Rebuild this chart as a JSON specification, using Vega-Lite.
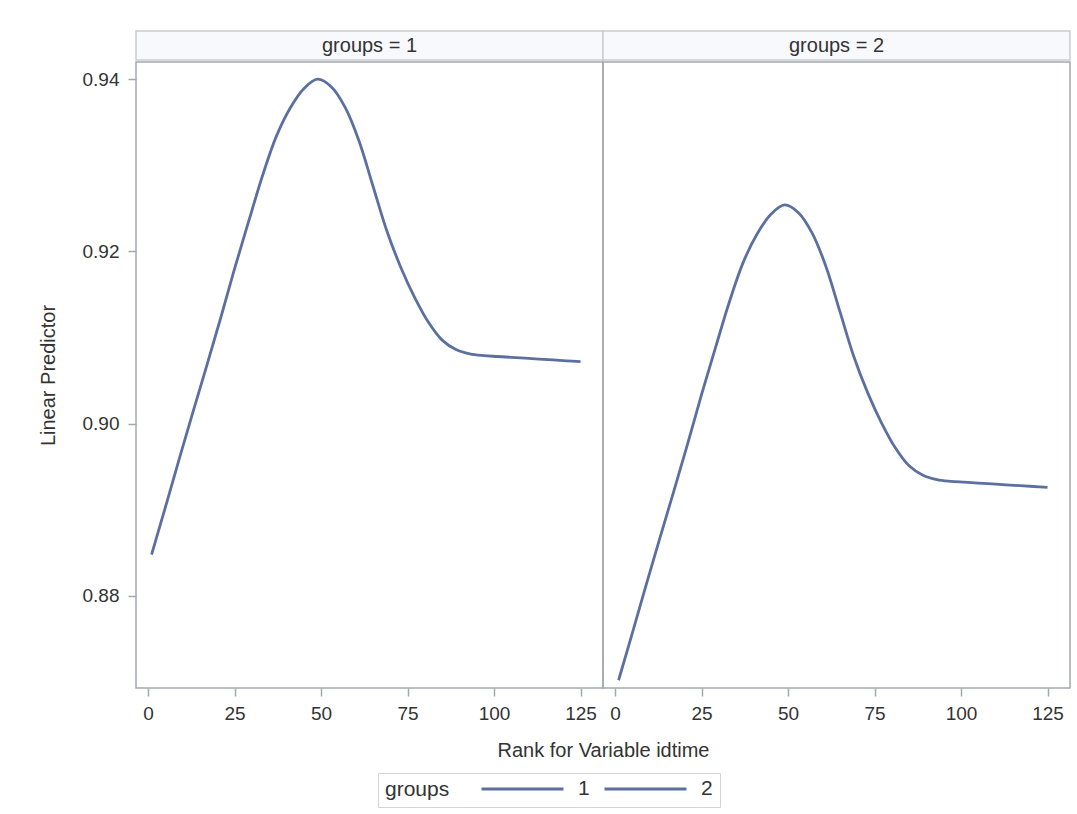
{
  "$schema": "https://vega.github.io/schema/vega-lite/v6.json",
  "padding": {"left": 37, "top": 30, "right": 7, "bottom": 10},
  "background": "white",
  "datasets": {
    "curves": [
      {"rank": 1, "pred": 0.8848, "groups": 1},
      {"rank": 5, "pred": 0.8903, "groups": 1},
      {"rank": 9, "pred": 0.8959, "groups": 1},
      {"rank": 13, "pred": 0.9014, "groups": 1},
      {"rank": 17, "pred": 0.9068, "groups": 1},
      {"rank": 21, "pred": 0.9123, "groups": 1},
      {"rank": 25, "pred": 0.918, "groups": 1},
      {"rank": 29, "pred": 0.9234, "groups": 1},
      {"rank": 33, "pred": 0.9287, "groups": 1},
      {"rank": 37, "pred": 0.9333, "groups": 1},
      {"rank": 41, "pred": 0.9366, "groups": 1},
      {"rank": 45, "pred": 0.9389, "groups": 1},
      {"rank": 49, "pred": 0.94, "groups": 1},
      {"rank": 53, "pred": 0.9391, "groups": 1},
      {"rank": 57, "pred": 0.9367, "groups": 1},
      {"rank": 61, "pred": 0.9328, "groups": 1},
      {"rank": 65, "pred": 0.9276, "groups": 1},
      {"rank": 69, "pred": 0.9224, "groups": 1},
      {"rank": 73, "pred": 0.9182, "groups": 1},
      {"rank": 77, "pred": 0.9147, "groups": 1},
      {"rank": 81, "pred": 0.9118, "groups": 1},
      {"rank": 85, "pred": 0.9097, "groups": 1},
      {"rank": 89, "pred": 0.9086, "groups": 1},
      {"rank": 93, "pred": 0.9081, "groups": 1},
      {"rank": 97, "pred": 0.9079, "groups": 1},
      {"rank": 101, "pred": 0.9078, "groups": 1},
      {"rank": 105, "pred": 0.9077, "groups": 1},
      {"rank": 109, "pred": 0.9076, "groups": 1},
      {"rank": 113, "pred": 0.9075, "groups": 1},
      {"rank": 117, "pred": 0.9074, "groups": 1},
      {"rank": 121, "pred": 0.9073, "groups": 1},
      {"rank": 125, "pred": 0.9072, "groups": 1},
      {"rank": 1, "pred": 0.8702, "groups": 2},
      {"rank": 5, "pred": 0.8757, "groups": 2},
      {"rank": 9, "pred": 0.8813, "groups": 2},
      {"rank": 13, "pred": 0.8868, "groups": 2},
      {"rank": 17, "pred": 0.8922, "groups": 2},
      {"rank": 21, "pred": 0.8977, "groups": 2},
      {"rank": 25, "pred": 0.9034, "groups": 2},
      {"rank": 29, "pred": 0.9088, "groups": 2},
      {"rank": 33, "pred": 0.9141, "groups": 2},
      {"rank": 37, "pred": 0.9187, "groups": 2},
      {"rank": 41, "pred": 0.922, "groups": 2},
      {"rank": 45, "pred": 0.9243, "groups": 2},
      {"rank": 49, "pred": 0.9254, "groups": 2},
      {"rank": 53, "pred": 0.9245, "groups": 2},
      {"rank": 57, "pred": 0.9221, "groups": 2},
      {"rank": 61, "pred": 0.9182, "groups": 2},
      {"rank": 65, "pred": 0.913, "groups": 2},
      {"rank": 69, "pred": 0.9078, "groups": 2},
      {"rank": 73, "pred": 0.9036, "groups": 2},
      {"rank": 77, "pred": 0.9001, "groups": 2},
      {"rank": 81, "pred": 0.8972, "groups": 2},
      {"rank": 85, "pred": 0.8951, "groups": 2},
      {"rank": 89, "pred": 0.894, "groups": 2},
      {"rank": 93, "pred": 0.8935, "groups": 2},
      {"rank": 97, "pred": 0.8933, "groups": 2},
      {"rank": 101, "pred": 0.8932, "groups": 2},
      {"rank": 105, "pred": 0.8931, "groups": 2},
      {"rank": 109, "pred": 0.893, "groups": 2},
      {"rank": 113, "pred": 0.8929, "groups": 2},
      {"rank": 117, "pred": 0.8928, "groups": 2},
      {"rank": 121, "pred": 0.8927, "groups": 2},
      {"rank": 125, "pred": 0.8926, "groups": 2}
    ],
    "headers": [{"groups": 1, "label": "groups = 1"}, {"groups": 2, "label": "groups = 2"}]
  },
  "spacing": 0,
  "vconcat": [
    {
      "spacing": 0,
      "bounds": "flush",
      "hconcat": [
        {
          "width": 467, "height": 29,
          "data": {"name": "headers"},
          "transform": [{"filter": "datum.groups == 1"}],
          "view": {"fill": "#f8f9fd", "stroke": "#c9ccd0", "strokeWidth": 1.5},
          "mark": {"type": "text", "fontSize": 20, "color": "#333333"},
          "encoding": {"text": {"field": "label", "type": "nominal"}}
        },
        {
          "width": 467, "height": 29,
          "data": {"name": "headers"},
          "transform": [{"filter": "datum.groups == 2"}],
          "view": {"fill": "#f8f9fd", "stroke": "#c9ccd0", "strokeWidth": 1.5},
          "mark": {"type": "text", "fontSize": 20, "color": "#333333"},
          "encoding": {"text": {"field": "label", "type": "nominal"}}
        }
      ]
    },
    {
      "spacing": 0,
      "bounds": "flush",
      "hconcat": [
        {
          "width": 467, "height": 626,
          "data": {"name": "curves"},
          "transform": [{"filter": "datum.groups == 1"}],
          "mark": {"type": "line", "interpolate": "catmull-rom", "strokeWidth": 2.8},
          "encoding": {
            "x": {"field": "rank", "type": "quantitative",
              "scale": {"domain": [-3.5, 131.5], "nice": false, "zero": false},
              "axis": {"values": [0, 25, 50, 75, 100, 125], "title": "Rank for Variable idtime", "titleX": 467, "titleAlign": "center"}},
            "y": {"field": "pred", "type": "quantitative",
              "scale": {"domain": [0.8693, 0.942], "nice": false, "zero": false},
              "axis": {"values": [0.88, 0.9, 0.92, 0.94], "format": ".2f", "title": "Linear Predictor"}},
            "color": {"field": "groups", "type": "nominal",
              "scale": {"domain": [1, 2], "range": ["#5b70a0", "#5b70a0"]},
              "legend": {"orient": "none", "legendX": 242, "legendY": 742, "direction": "horizontal", "title": "groups", "titleOrient": "left"}}
          }
        },
        {
          "width": 467, "height": 626,
          "data": {"name": "curves"},
          "transform": [{"filter": "datum.groups == 2"}],
          "mark": {"type": "line", "interpolate": "catmull-rom", "strokeWidth": 2.8},
          "encoding": {
            "x": {"field": "rank", "type": "quantitative",
              "scale": {"domain": [-3.5, 131.5], "nice": false, "zero": false},
              "axis": {"values": [0, 25, 50, 75, 100, 125], "title": null}},
            "y": {"field": "pred", "type": "quantitative",
              "scale": {"domain": [0.8693, 0.942], "nice": false, "zero": false},
              "axis": null},
            "color": {"field": "groups", "type": "nominal",
              "scale": {"domain": [1, 2], "range": ["#5b70a0", "#5b70a0"]},
              "legend": {"orient": "none", "legendX": 242, "legendY": 742, "direction": "horizontal", "title": "groups", "titleOrient": "left"}}
          }
        }
      ]
    }
  ],
  "config": {
    "font": "Liberation Sans",
    "view": {"stroke": "#a4a8ad", "strokeWidth": 1.5},
    "axis": {
      "domain": false, "grid": false,
      "tickColor": "#a4a8ad", "tickSize": 8, "tickWidth": 1.5,
      "labelFontSize": 19, "labelColor": "#333333", "labelPadding": 9,
      "titleFontSize": 20, "titleColor": "#333333", "titleFontWeight": "normal"
    },
    "axisX": {"titlePadding": 17, "labelPadding": 8},
    "axisY": {"titlePadding": 24},
    "legend": {
      "strokeColor": "#d4d4d4", "padding": 7, "fillColor": "white",
      "titleFontSize": 21, "titleFontWeight": "normal", "titleColor": "#333333", "titlePadding": 30,
      "titleBaseline": "middle", "titleAnchor": "middle",
      "labelFontSize": 21, "labelColor": "#333333", "labelOffset": 13,
      "symbolType": "stroke", "symbolSize": 6724, "symbolStrokeWidth": 2.8, "columnPadding": 13,
      "clipHeight": 18
    }
  }
}
